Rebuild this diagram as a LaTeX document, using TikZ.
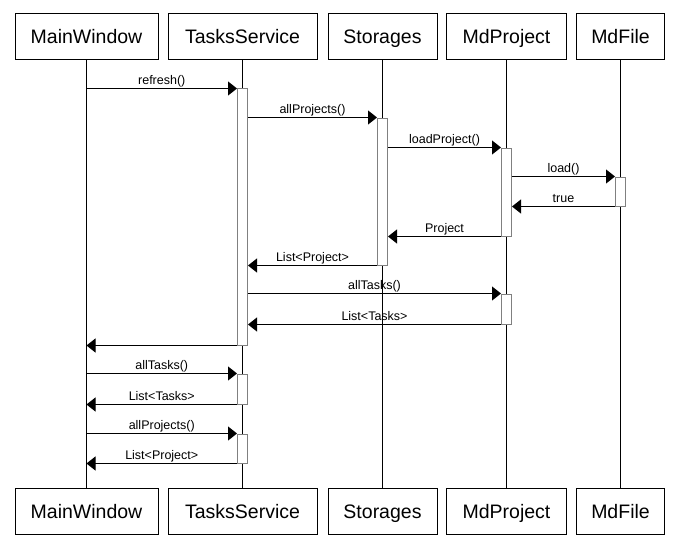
\documentclass[tikz,border=0pt]{standalone}
\usepackage{fontspec}
\setmainfont{Liberation Sans}
\usetikzlibrary{arrows.meta,positioning,calc}
\definecolor{Ink}{HTML}{000000}
\definecolor{Bar}{HTML}{808080}
\tikzset{
 obj/.style={draw=Ink,fill=white,line width=1pt,minimum height=46pt,inner sep=0pt,text height=14pt,text depth=0pt,font=\fontsize{19.5}{22}\selectfont},
 life/.style={draw=Ink,line width=1pt},
 act/.style={draw=Bar,fill=white,line width=1pt,minimum width=10pt,inner sep=0pt},
 msg/.style={-{Triangle[length=9pt,width=14pt]},line width=1pt,draw=Ink},
 lbl/.style={above,inner sep=3.5pt,text depth=0pt,font=\fontsize{12.5}{14}\selectfont}
}
\begin{document}
\begin{tikzpicture}[x=1pt,y=-1pt]
\useasboundingbox (0,0) rectangle (679,559);
\foreach \name/\x/\w/\txt in {mw/86.5/143/MainWindow,ts/242.5/149/TasksService,st/382.5/109/Storages,mp/506.5/120/MdProject,mf/620.5/88/MdFile} {
 \node[obj,minimum width=\w pt] (top\name) at (\x,37) {\txt};
 \node[obj,minimum width=\w pt] (bot\name) at (\x,511.5) {\txt};
 \draw[life] (top\name) -- (bot\name);
}
\foreach \name/\x/\ya/\yb in {ts1/242.5/89/345,st1/382.5/118/265,mp1/506.5/148/236,mf1/620.5/177/206,mp2/506.5/294/324,ts2/242.5/374/404,ts3/242.5/434/463} {
 \node[act,minimum height={(\yb-\ya)*1pt}] (\name) at (\x,{(\ya+\yb)/2}) {};
}
\draw[msg] (topmw |- ts1.north) -- (ts1.north west) node[lbl,midway] {refresh()};
\draw[msg] (ts1.east |- st1.north) -- (st1.north west) node[lbl,midway] {allProjects()};
\draw[msg] (st1.east |- mp1.north) -- (mp1.north west) node[lbl,midway] {loadProject()};
\draw[msg] (mp1.east |- mf1.north) -- (mf1.north west) node[lbl,midway] {load()};
\draw[msg] (mf1.south west) -- (mp1.east |- mf1.south) node[lbl,midway] {true};
\draw[msg] (mp1.south west) -- (st1.east |- mp1.south) node[lbl,midway] {Project};
\draw[msg] (st1.south west) -- (ts1.east |- st1.south) node[lbl,midway] {List<Project>};
\draw[msg] (ts1.east |- mp2.north) -- (mp2.north west) node[lbl,midway] {allTasks()};
\draw[msg] (mp2.south west) -- (ts1.east |- mp2.south) node[lbl,midway] {List<Tasks>};
\draw[msg] (ts1.south west) -- (topmw |- ts1.south);
\draw[msg] (topmw |- ts2.north) -- (ts2.north west) node[lbl,midway] {allTasks()};
\draw[msg] (ts2.south west) -- (topmw |- ts2.south) node[lbl,midway] {List<Tasks>};
\draw[msg] (topmw |- ts3.north) -- (ts3.north west) node[lbl,midway] {allProjects()};
\draw[msg] (ts3.south west) -- (topmw |- ts3.south) node[lbl,midway] {List<Project>};
\end{tikzpicture}
\end{document}
